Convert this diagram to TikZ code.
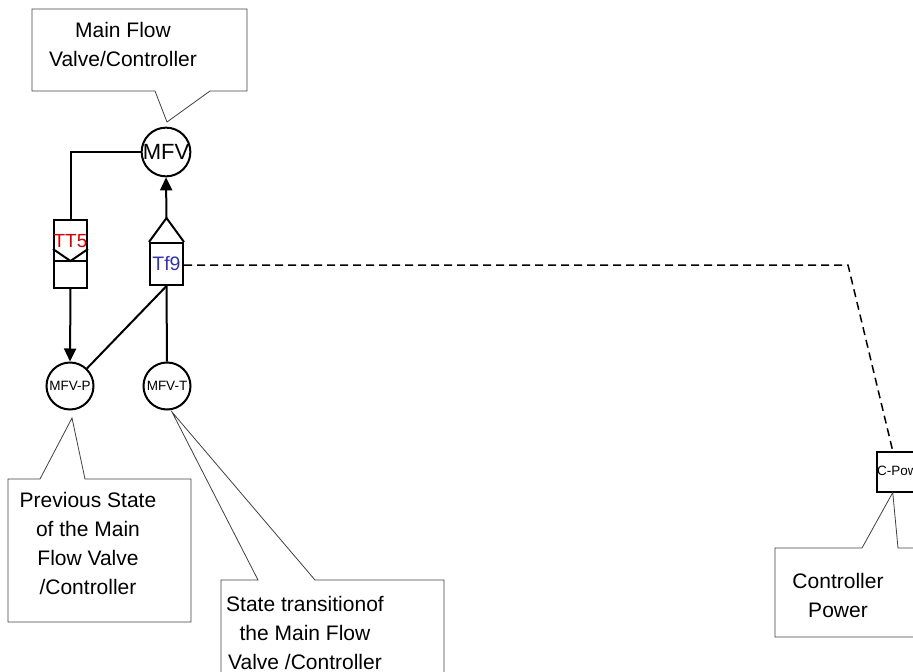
\documentclass[tikz,border=0pt]{standalone}
\usepackage{fontspec}
\setmainfont{Liberation Sans}
\usetikzlibrary{arrows.meta,calc}
\definecolor{tfblue}{RGB}{51,51,170}
\definecolor{ttred}{RGB}{210,0,0}
\begin{document}
\begin{tikzpicture}[x=1pt,y=-1pt,
  thickline/.style={line width=2pt,black},
  callout/.style={line width=0.8pt,black!75,line join=miter},
  ctext/.style={font=\fontsize{21}{29}\selectfont,align=center,inner sep=0pt,anchor=north},
  valve/.style={circle,draw,line width=2pt,minimum size=47pt,inner sep=0pt},
  boxnode/.style={draw,line width=2pt,inner sep=0pt},
  arr/.style={thickline,-{Triangle[length=13pt,width=12pt]}},
  dashline/.style={line width=1.5pt,dash pattern=on 8pt off 5pt}
]
\useasboundingbox (0,0) rectangle (913,672);
\clip (0,0) rectangle (913,672);

% valves
\node[valve,font=\fontsize{22}{24}\selectfont] (MFV) at (166,152) {MFV};
\node[valve,font=\fontsize{13.5}{15}\selectfont] (MFVP) at (70,386) {MFV-P};
\node[valve,font=\fontsize{13.5}{15}\selectfont] (MFVT) at (167,386) {MFV-T};

% TT5
\node[boxnode,minimum width=33pt,minimum height=68pt] (TT5) at (70.5,254) {};
\draw[thickline] ($(TT5.north west)+(0,42)$) -- ($(TT5.north east)+(0,42)$);
\draw[thickline,line join=miter] ($(TT5.north west)+(0,30)$) -- ($(TT5.north)+(0,42)$) -- ($(TT5.north east)+(0,30)$);
\node[text=ttred,font=\fontsize{19}{21}\selectfont,inner sep=0pt] (TT5lbl) at (70.5,241) {TT5};

% Tf9
\node[boxnode,minimum width=33pt,minimum height=42pt,text=tfblue,font=\fontsize{19.5}{21}\selectfont] (Tf9) at (166.5,264) {Tf9};
\coordinate (Tf9apex) at (166.5,218);
\draw[thickline,line join=miter] (Tf9.north west) -- (Tf9apex) -- (Tf9.north east);

% C-Pow
\node[draw,line width=1.5pt,minimum width=40pt,minimum height=40pt,inner sep=0pt,anchor=north west] (CP) at (876,451) {};
\node[font=\fontsize{13.5}{15}\selectfont,inner sep=0pt,anchor=west] (CPlbl) at (877,471) {C-Pow};

% connectors
\draw[thickline] (MFV.west) -| (TT5.north);
\draw[arr] (TT5.south) -- (MFVP.north);
\draw[arr] (Tf9apex) -- (MFV.south);
\draw[thickline] (Tf9.south) -- (MFVP);
\draw[thickline] (Tf9.south) -- (MFVT.north);
\coordinate (bend) at (848,265);
\draw[dashline] (Tf9.east |- bend) -- (bend) -- ([xshift=-4pt]CP.north);

% callouts
\coordinate (p1) at (167,122);
\draw[callout] (32,9) -- (247,9) -- (247,91) -- (210,91) -- (p1) -- (155,91) -- (32,91) -- cycle;
\node[ctext] (c1) at (123,22) {Main Flow\\Valve/Controller};

\coordinate (p2) at (72,418);
\draw[callout] (8,479) -- (40,479) -- (p2) -- (85,479) -- (191,479) -- (191,622) -- (8,622) -- cycle;
\node[ctext] (c2) at (88,492) {Previous State\\of the Main\\Flow Valve\\/Controller};

\coordinate (p3) at (172,412);
\draw[callout] (221,700) -- (221,580) -- (258,580) -- (p3) -- (315,580) -- (444,580) -- (444,700);
\node[ctext] (c3) at (305,596) {State transitionof\\the Main Flow\\Valve /Controller};

\coordinate (p4) at ([xshift=-4pt]CP.south);
\draw[callout] (930,548) -- (898,548) -- (p4) -- (862,548) -- (775,548) -- (775,637) -- (930,637);
\node[ctext] (c4) at (838,573) {Controller\\Power};
\end{tikzpicture}
\end{document}
